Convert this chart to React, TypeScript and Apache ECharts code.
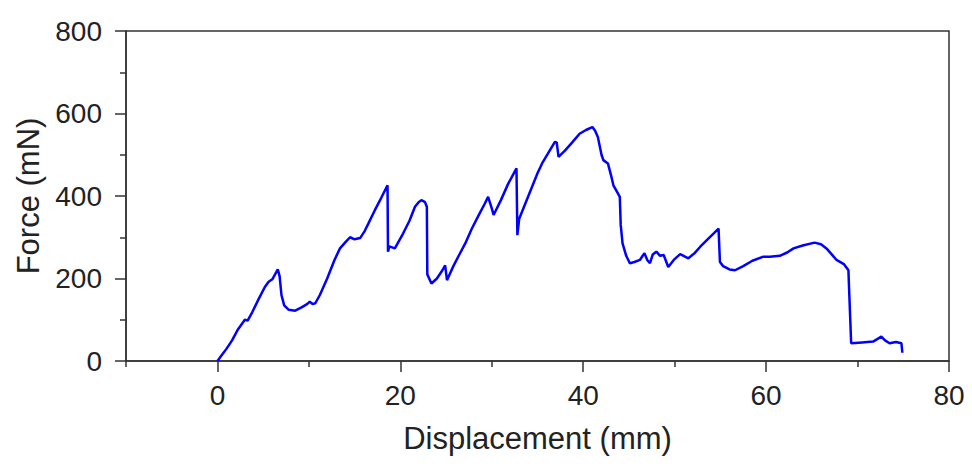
import React, { useEffect, useRef } from "react";
import * as echarts from "echarts";

const displacement = [
  0.0, 0.5, 1.0, 1.6, 2.2, 3.0, 3.3, 3.8, 4.5, 5.2, 5.6, 6.0, 6.3, 6.6, 6.8, 7.0, 7.3, 7.8, 8.5, 9.2,
  9.8, 10.1, 10.4, 10.7, 11.2, 12.0, 12.8, 13.4, 14.0, 14.5, 15.0, 15.6, 16.1, 16.5, 17.2, 17.9, 18.6,
  18.65, 18.8, 19.4, 20.3, 21.0, 21.6, 22.0, 22.3, 22.7, 22.9, 22.95, 23.4, 24.0, 24.6, 24.9, 25.1,
  25.8, 26.5, 27.1, 27.8, 28.6, 29.2, 29.6, 30.0, 30.2, 31.0, 31.8, 32.7, 32.8, 33.0, 34.0, 35.0, 35.5,
  36.2, 36.9, 37.1, 37.3, 38.0, 38.8, 39.6, 40.3, 41.0, 41.3, 41.6, 42.0, 42.2, 42.7, 43.1, 43.3, 43.7,
  44.0, 44.1, 44.3, 44.7, 45.1, 45.6, 46.2, 46.5, 46.7, 47.0, 47.3, 47.6, 48.0, 48.4, 48.8, 49.3, 49.9,
  50.6, 51.5, 52.2, 52.8, 53.6, 54.3, 54.8, 54.95, 55.3, 56.0, 56.6, 57.5, 58.5, 59.7, 60.4, 61.5, 62.3,
  63.0, 64.0, 65.3, 66.0, 66.6, 67.2, 67.7, 68.5, 69.0, 69.1, 69.3, 70.5, 71.7, 72.6, 73.0, 73.5, 74.2,
  74.8, 74.9,
];

const force = [
  0, 15, 30, 50, 75, 100, 98, 118, 150, 180, 192, 198, 210, 222, 205, 160, 135, 124, 122, 130,
  138, 144, 138, 140, 160, 200, 245, 273, 288, 300, 295, 298, 315, 333, 365, 395, 426,
  265, 278, 273, 309, 340, 374, 385, 390, 385, 374, 210, 188, 200, 220, 232, 196,
  230, 260, 285, 320, 355, 380, 398, 370, 354, 390, 430, 467, 305, 345, 400, 455, 479,
  505, 531, 530, 495, 510, 530, 551, 560, 567, 558, 543, 500, 487, 479, 445, 426, 410,
  398, 330, 285, 255, 237, 240, 245, 255, 261, 245, 237, 258, 265, 255, 257, 228, 245,
  259, 249, 262, 277, 295, 310, 321, 240, 230, 222, 220, 230, 243, 253, 253, 255, 263,
  273, 280, 287, 283, 273, 258, 245, 235, 220, 160, 43, 45, 47, 59, 50, 43, 46,
  43, 20,
];

const xMajorTicks = [0, 20, 40, 60, 80];
const xMinorTicks = [-10, 10, 30, 50, 70];

const FONT = "'Liberation Sans', Arial, sans-serif";
const AXIS_COLOR = "#333";
const TEXT_COLOR = "#222";

export default function App() {
  const ref = useRef<HTMLDivElement>(null);

  useEffect(() => {
    document.body.style.margin = "0";
    if (!ref.current) return;
    const chart = echarts.init(ref.current, null, { renderer: "svg" });
    const data = displacement.map((x, i) => [x, force[i]]);
    chart.setOption({
      animation: false,
      backgroundColor: "#ffffff",
      grid: {
        left: 126,
        right: 23,
        top: 31,
        bottom: 107,
        show: true,
        borderColor: AXIS_COLOR,
        borderWidth: 1.5,
        backgroundColor: "transparent",
      },
      xAxis: [
        {
          type: "value",
          min: -10,
          max: 80,
          position: "bottom",
          name: "Displacement (mm)",
          nameLocation: "middle",
          nameGap: 62,
          nameTextStyle: { fontFamily: FONT, fontSize: 31, color: TEXT_COLOR },
          axisLine: { show: true, onZero: false, lineStyle: { color: AXIS_COLOR, width: 1.5 } },
          axisTick: { show: true, inside: false, length: 11, customValues: xMajorTicks, lineStyle: { color: AXIS_COLOR, width: 1.5 } },
          axisLabel: { customValues: xMajorTicks, margin: 20, fontFamily: FONT, fontSize: 28, color: TEXT_COLOR },
          splitLine: { show: false },
        },
        {
          type: "value",
          min: -10,
          max: 80,
          position: "bottom",
          axisLine: { show: false, onZero: false },
          axisTick: { show: true, inside: false, length: 6, customValues: xMinorTicks, lineStyle: { color: AXIS_COLOR, width: 1.5 } },
          axisLabel: { show: false },
          splitLine: { show: false },
        },
      ],
      yAxis: {
        type: "value",
        min: 0,
        max: 800,
        interval: 200,
        name: "Force (mN)",
        nameLocation: "middle",
        nameGap: 82,
        nameTextStyle: { fontFamily: FONT, fontSize: 31, color: TEXT_COLOR },
        axisLine: { show: true, onZero: false, lineStyle: { color: AXIS_COLOR, width: 1.5 } },
        axisTick: { show: true, inside: false, length: 11, lineStyle: { color: AXIS_COLOR, width: 1.5 } },
        minorTick: { show: true, splitNumber: 2, length: 6, lineStyle: { color: AXIS_COLOR, width: 1.5 } },
        axisLabel: { margin: 24, fontFamily: FONT, fontSize: 28, color: TEXT_COLOR },
        splitLine: { show: false },
      },
      series: [
        {
          type: "line",
          data,
          xAxisIndex: 0,
          showSymbol: false,
          symbol: "none",
          lineStyle: { color: "#0000ff", width: 2.5 },
        },
      ],
    });
    return () => chart.dispose();
  }, []);

  return <div ref={ref} style={{ width: 972, height: 468 }} />;
}
